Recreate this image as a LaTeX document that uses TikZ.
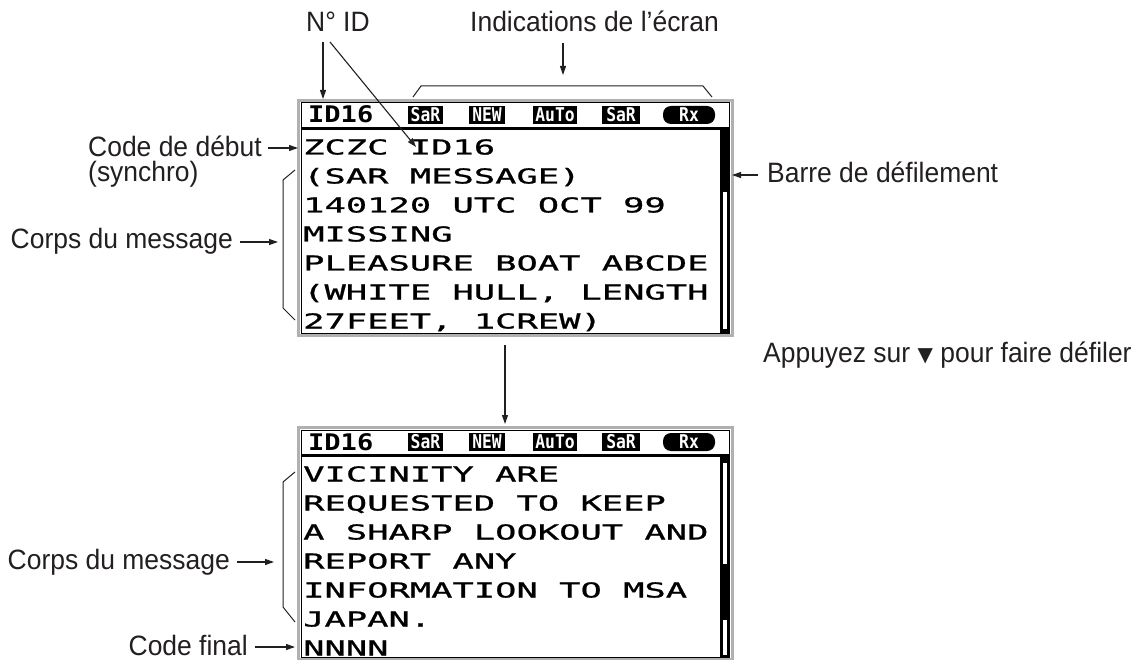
\documentclass[tikz,border=0pt]{standalone}
\usepackage{fontspec}
\setmainfont[FakeStretch=0.945]{Liberation Sans}
\newfontfamily\lcdfont[FakeStretch=1.72,FakeBold=1]{DejaVu Sans Mono}
\newfontfamily\lcdheadfont[FakeStretch=1.18]{DejaVu Sans Mono}
\newfontfamily\badgefont[FakeStretch=0.86]{DejaVu Sans Mono}
\newfontfamily\symfont{DejaVu Sans}
\usetikzlibrary{arrows.meta}
\definecolor{ink}{HTML}{231F20}
\definecolor{bezel}{HTML}{B0B0B0}
\tikzset{
  lbl/.style={font=\fontsize{28}{25.5}\selectfont, text=ink, inner sep=0pt},
  lcdrow/.style={font=\lcdfont\fontsize{20.6}{22}\selectfont, inner sep=0pt, anchor=base west},
  hdtext/.style={font=\lcdheadfont\bfseries\fontsize{22.9}{24}\selectfont, inner sep=0pt, anchor=base west},
  badge/.style={fill=black, text=white, inner sep=0pt, minimum height=18pt,
    font=\badgefont\bfseries\fontsize{19}{19}\selectfont},
  arr/.style={draw=ink, line width=1.1pt, -{Triangle[length=9pt,width=6pt]}},
  brk/.style={draw=ink, line width=1pt},
  lcdhead/.pic={
    \node[hdtext] (-id) at (308,123) {ID16};
    \node[badge, minimum width=35pt] (-b1) at (425.5,115) {SaR};
    \node[badge, minimum width=36pt] (-b2) at (487,115) {NEW};
    \node[badge, minimum width=44pt] (-b3) at (555,115) {AuTo};
    \node[badge, minimum width=38pt] (-b4) at (621,115) {SaR};
    \node[badge, minimum width=52pt, rounded corners=8pt] (-b5) at (689,115) {Rx};
  }
}
\begin{document}
\begin{tikzpicture}[x=1pt,y=-1pt]
\useasboundingbox (0,0) rectangle (1148,660);

% ---- first screen: frame, header rule, scroll bar
\draw[bezel, line width=3pt] (298.5,100.5) rectangle (732,335.5);
\draw[black, line width=1pt] (301,103) rectangle (729.5,333);
\draw[black, line width=3pt] (301,128.5) -- (729.5,128.5);
\fill[black] (720,128.5) rectangle (729.5,333);
\fill[white] (723,192) rectangle (726.5,329);
\pic (h1) at (0,0) {lcdhead};

% ---- second screen
\draw[bezel, line width=3pt] (298.5,427.5) rectangle (732,659.5);
\draw[black, line width=1pt] (301,430) rectangle (729.5,657.5);
\draw[black, line width=3pt] (301,455.5) -- (729.5,455.5);
\fill[black] (720,455.5) rectangle (729.5,657.5);
\fill[white] (723,463) rectangle (726.5,564);
\fill[white] (723,620) rectangle (726.5,654.5);
\pic (h2) at (0,327) {lcdhead};

% ---- message text, first screen
\node[lcdrow] (r11) at (303,154.5) {ZCZC ID16};
\node[lcdrow] (r12) at (303,183.5) {(SAR MESSAGE)};
\node[lcdrow] (r13) at (303,212.5) {140120 UTC OCT 99};
\node[lcdrow] (r14) at (303,241.5) {MISSING};
\node[lcdrow] (r15) at (303,270.5) {PLEASURE BOAT ABCDE};
\node[lcdrow] (r16) at (303,299.5) {(WHITE HULL, LENGTH};
\node[lcdrow] (r17) at (303,328.5) {27FEET, 1CREW)};

% ---- message text, second screen
\node[lcdrow] (r21) at (303,481.5) {VICINITY ARE};
\node[lcdrow] (r22) at (303,510.5) {REQUESTED TO KEEP};
\node[lcdrow] (r23) at (303,539.5) {A SHARP LOOKOUT AND};
\node[lcdrow] (r24) at (303,568.5) {REPORT ANY};
\node[lcdrow] (r25) at (303,597.5) {INFORMATION TO MSA};
\node[lcdrow] (r26) at (303,626.5) {JAPAN.};
\node[lcdrow] (r27) at (303,655.5) {NNNN};

% ---- callout labels
\node[lbl, anchor=base west] (nid) at (306,32) {N° ID};
\node[lbl, anchor=base west] (ind) at (470,32) {Indications de l'écran};
\node[lbl, anchor=base west, align=left] (cdd) at (88,182) {Code de début\\(synchro)};
\node[lbl, anchor=base east] (corps1) at (233,249) {Corps du message};
\node[lbl, anchor=base east] (corps2) at (230,569) {Corps du message};
\node[lbl, anchor=base east] (cfin) at (248,655) {Code final};
\node[lbl, anchor=base west] (barre) at (767,183) {Barre de défilement};
\node[lbl, anchor=base west] (appuy) at (763,362)
  {Appuyez sur \raisebox{1pt}{\symfont\fontsize{20}{20}\selectfont ▼} pour faire défiler};

% ---- arrow end points
\coordinate (nidA) at (323,42);   \coordinate (idTop) at (323,99);
\coordinate (nidB) at (330,42);   \coordinate (idRow) at (416,147);
\coordinate (indA) at (563,43);   \coordinate (indB) at (563,75);
\coordinate (cddA) at (268,148);  \coordinate (cddB) at (298,148);
\coordinate (c1A) at (240,242);   \coordinate (c1B) at (278,242);
\coordinate (c2A) at (237,562);   \coordinate (c2B) at (274,562);
\coordinate (cfA) at (255,647);   \coordinate (cfB) at (295,647);
\coordinate (brA) at (758,175);   \coordinate (brB) at (732,175);
\coordinate (scrA) at (505,345);  \coordinate (scrB) at (505,424);

\draw[arr] (nidA) -- (idTop);
\draw[arr] (nidB) -- (idRow);
\draw[arr] (indA) -- (indB);
\draw[arr] (cddA) -- (cddB);
\draw[arr] (c1A) -- (c1B);
\draw[arr] (c2A) -- (c2B);
\draw[arr] (cfA) -- (cfB);
\draw[arr] (brA) -- (brB);
\draw[arr] (scrA) -- (scrB);

% ---- brackets
\draw[brk] (413,97) -- (421,86) -- (703,86) -- (712,97);
\draw[brk] (295,170) -- (283,180) -- (283,308) -- (295,320);
\draw[brk] (295,472) -- (283,482) -- (283,607) -- (295,622);
\end{tikzpicture}
\end{document}
